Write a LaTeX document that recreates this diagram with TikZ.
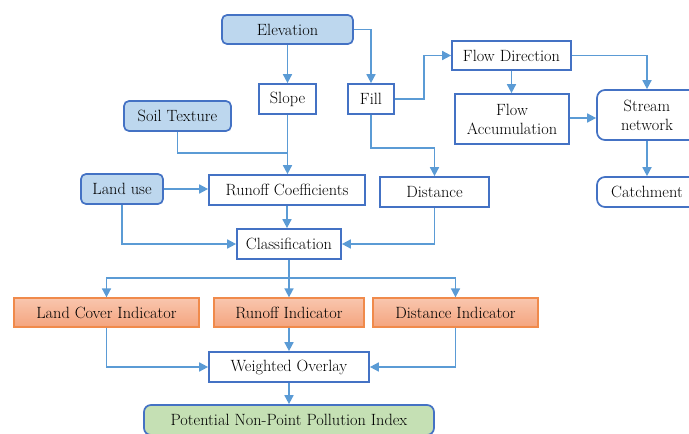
\documentclass[tikz,border=0pt]{standalone}
\usepackage{fontspec}
\setmainfont{Latin Modern Roman}
\usetikzlibrary{arrows.meta,calc}
\definecolor{boxblue}{HTML}{4472C4}
\definecolor{arrblue}{HTML}{5B9BD5}
\definecolor{lightblue}{HTML}{BDD7EE}
\definecolor{orbord}{HTML}{F08A4B}
\definecolor{ortop}{HTML}{F9C6AE}
\definecolor{orbot}{HTML}{F4A47E}
\definecolor{greenfill}{HTML}{C5E0B4}
\begin{document}
\begin{tikzpicture}[x=1pt,y=1pt,
  every node/.style={font=\fontsize{16.3}{18}\selectfont, text=black, align=center, inner sep=0pt},
  box/.style={draw=boxblue, line width=1.7pt, fill=white, minimum width=#1},
  box/.default=60pt,
  rbox/.style={box=#1, rounded corners=5pt},
  rbox/.default=60pt,
  inbox/.style={rbox=#1, fill=lightblue},
  ind/.style={draw=orbord, line width=1.3pt, top color=ortop, bottom color=orbot, minimum width=#1, minimum height=29pt},
  flow/.style={draw=arrblue, line width=1.7pt, -{Triangle[length=9pt,width=9pt]}},
  plain/.style={draw=arrblue, line width=1.7pt}
]
\useasboundingbox (0,0) rectangle (689,-434);
\clip (0,0) rectangle (689,-434);
% nodes
\node[inbox=131pt, minimum height=29pt] (elev) at (287.5,-29.5) {Elevation};
\node[box=57pt, minimum height=30pt] (slope) at (287.5,-99) {Slope};
\node[box=46pt, minimum height=30pt] (fill) at (371,-99) {Fill};
\node[inbox=107pt, minimum height=30pt] (soil) at (177.5,-116) {Soil Texture};
\node[inbox=82pt, minimum height=30pt] (land) at (122,-189) {Land use};
\node[box=156pt, minimum height=30pt] (runoff) at (287,-190) {Runoff Coefficients};
\node[box=119pt, minimum height=29pt] (fdir) at (511.5,-55.5) {Flow Direction};
\node[box=114pt, minimum height=50pt] (facc) at (512,-119) {Flow\\[1pt]Accumulation};
\node[rbox=100pt, minimum height=50pt, rounded corners=8pt] (stream) at (647,-115) {Stream\\[1pt]network};
\node[rbox=100pt, minimum height=30pt, rounded corners=8pt] (catch) at (647,-192) {Catchment};
\node[box=109pt, minimum height=30pt] (dist) at (434.5,-192) {Distance};
\node[box=104pt, minimum height=30pt] (class) at (289,-244) {Classification};
\node[ind=185pt] (lci) at (106.5,-312.5) {Land Cover Indicator};
\node[ind=150pt] (ri) at (289,-312.5) {Runoff Indicator};
\node[ind=165pt] (di) at (455.5,-312.5) {Distance Indicator};
\node[box=160pt, minimum height=30pt] (wo) at (289,-367) {Weighted Overlay};
\node[rbox=290pt, minimum height=30pt, fill=greenfill, rounded corners=7pt] (pot) at (289,-420) {Potential Non-Point Pollution Index};
% coordinates
\coordinate (j1) at (287.5,-153);
\coordinate (split) at (289,-278);
% connectors
\draw[flow] (elev.south) -- (slope.north);
\draw[flow] (elev.east) -| (fill.north);
\draw[flow] (fill.east) -- ++(29,0) |- (fdir.west);
\draw[flow] (fdir.south) -- (fdir.south |- facc.north);
\draw[flow] (fdir.east) -| (stream.north);
\draw[flow] ($(facc.east)+(0,1)$) -- ($(facc.east -| stream.west)+(0,1)$);
\draw[flow] (stream.south) -- (catch.north);
\draw[flow] (fill.south) -- ++(0,-33) -| (dist.north);
\draw[flow] (slope.south) -- (runoff.north -| slope.south);
\draw[plain] (soil.south) |- (j1);
\draw[flow] (land.east) -- (land.east -| runoff.west);
\draw[flow] (runoff.south) -- (runoff.south |- class.north);
\draw[flow] (land.south) |- (class.west);
\draw[flow] (dist.south) |- (class.east);
\draw[plain] (class.south) -- (split);
\draw[flow] (split) -| (lci.north);
\draw[flow] (split) -| (di.north);
\draw[flow] (split) -- (ri.north);
\draw[flow] (lci.south) |- (wo.west);
\draw[flow] (ri.south) -- (wo.north);
\draw[flow] (di.south) |- (wo.east);
\draw[flow] (wo.south) -- (pot.north);
\end{tikzpicture}
\end{document}
